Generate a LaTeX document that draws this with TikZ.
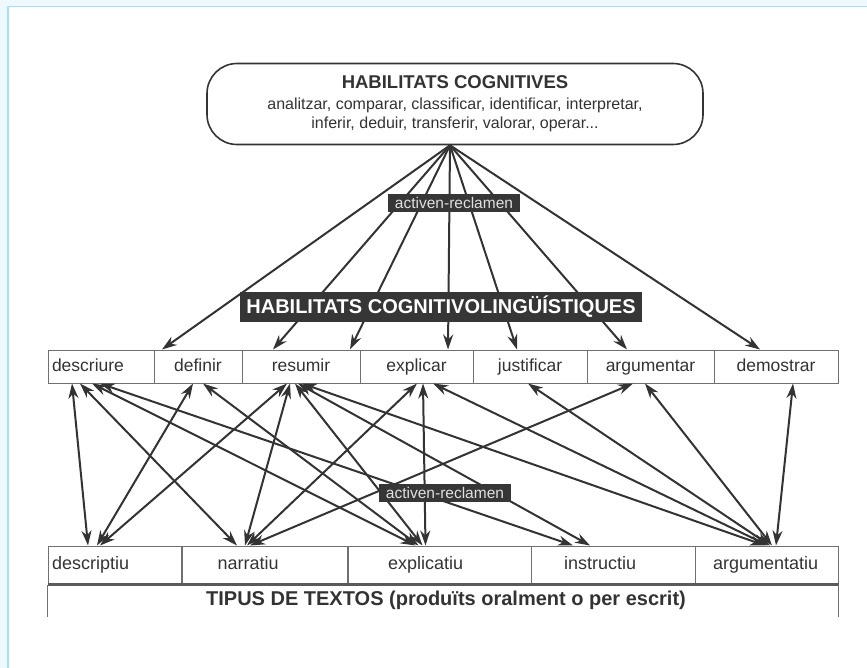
\documentclass[tikz,border=0pt]{standalone}
\usepackage{fontspec}
\setmainfont{Liberation Sans}
\usetikzlibrary{arrows.meta, positioning}
\definecolor{ink}{HTML}{333333}
\definecolor{boxgray}{HTML}{707070}
\definecolor{tagfill}{HTML}{363636}
\definecolor{bandblue}{HTML}{EEF8FF}
\definecolor{edgeblue}{HTML}{A9DDFF}

\begin{document}
\begin{tikzpicture}[x=1pt, y=-1pt,
    skill/.style={draw=boxgray, line width=1pt, minimum height=33pt, inner sep=0pt,
      text height=13pt, text depth=4pt, text=ink, font=\fontsize{17.5}{20}\selectfont},
    kind/.style={draw=boxgray, line width=1pt, minimum height=38pt, inner sep=0pt,
      text height=13pt, text depth=4pt, align=left, text=ink,
      font=\fontsize{18}{21}\selectfont},
    tag/.style={fill=tagfill, text=white!88!black, inner xsep=7pt, inner ysep=3pt,
      font=\fontsize{15.5}{17}\selectfont},
    fan/.style={ink, line width=2pt, -{Stealth[length=15pt, width=10pt]}},
    link/.style={ink, line width=2pt,
      {Stealth[length=15pt, width=10pt]}-{Stealth[length=15pt, width=10pt]}}]
  \useasboundingbox (0,0) rectangle (867,668);
  % frame
  \fill[bandblue] (0,0) rectangle (867,6);
  \fill[bandblue] (0,0) rectangle (8,668);
  \draw[edgeblue, line width=1.5pt] (8,668) -- (8,6.5) -- (867,6.5);

  % habilitats cognitives
  \node[draw=ink, line width=1.6pt, rounded corners=30pt, minimum width=496pt,
    minimum height=81pt, align=center, text=ink, font=\fontsize{16}{19}\selectfont]
    (cog) at (455,104)
    {{\bfseries\fontsize{18.5}{22}\selectfont HABILITATS COGNITIVES}\\[2pt]
     analitzar, comparar, classificar, identificar, interpretar,\\
     inferir, deduir, transferir, valorar, operar...};
  \coordinate (apex) at ([xshift=-5pt]cog.south);

  % habilitats cognitivolinguistiques
  \node[skill, minimum width=106pt, text width=98pt, inner xsep=4pt, align=left]
    (descriure) at (101,366.5) {descriure};
  \node[skill, minimum width=88pt] (definir) at (198,366.5) {definir};
  \node[skill, minimum width=118pt] (resumir) at (301,366.5) {resumir};
  \node[skill, minimum width=113pt] (explicar) at (416.5,366.5) {explicar};
  \node[skill, minimum width=114pt] (justificar) at (530,366.5) {justificar};
  \node[skill, minimum width=127pt] (argumentar) at (650.5,366.5) {argumentar};
  \node[skill, minimum width=124pt] (demostrar) at (776,366.5) {demostrar};

  % tipus de textos
  \node[kind, text width=126pt, inner xsep=4pt] (descriptiu) at (115,565) {descriptiu};
  \node[kind, text width=94pt, inner xsep=36pt] (narratiu) at (264.5,565) {narratiu};
  \node[kind, text width=103pt, inner xsep=40pt] (explicatiu) at (439.5,565) {explicatiu};
  \node[kind, text width=98pt, inner xsep=33pt] (instructiu) at (613,565) {instructiu};
  \node[kind, text width=107pt, inner xsep=18pt] (argumentatiu) at (766.5,565) {argumentatiu};
  \draw[boxgray!80!black, line width=2.6pt] (descriptiu.south west) -- (argumentatiu.south east);
  \node[text=ink, font=\bfseries\fontsize{20}{23}\selectfont, minimum height=33pt, inner sep=0pt]
    (tipus) at (446,600.5) {TIPUS DE TEXTOS (produïts oralment o per escrit)};
  \draw[boxgray, line width=1pt] (descriptiu.south west) -- (descriptiu.south west |- tipus.south);
  \draw[boxgray, line width=1pt] (argumentatiu.south east) -- (argumentatiu.south east |- tipus.south);

  % activen-reclamen (amunt)
  \draw[fan] (apex) -- ([xshift=-36pt]definir.north);
  \draw[fan] (apex) -- ([xshift=-28pt]resumir.north);
  \draw[fan] (apex) -- ([xshift=49pt]resumir.north);
  \draw[fan] (apex) -- ([xshift=31.5pt]explicar.north);
  \draw[fan] (apex) -- ([xshift=-13pt]justificar.north);
  \draw[fan] (apex) -- ([xshift=-23.5pt]argumentar.north);
  \draw[fan] (apex) -- ([xshift=-16pt]demostrar.north);

  % activen-reclamen (avall)
  \draw[link] ([xshift=-29pt]descriure.south) -- ([xshift=-27pt]descriptiu.north);
  \draw[link] ([xshift=-21pt]descriure.south) -- ([xshift=-27.5pt]narratiu.north);
  \draw[link] ([xshift=-9pt]descriure.south) -- ([xshift=-24pt]explicatiu.north);
  \draw[link] ([xshift=-1pt]descriure.south) -- ([xshift=-40pt]instructiu.north);
  \draw[link] ([xshift=-5pt]definir.south) -- ([xshift=-18pt]descriptiu.north);
  \draw[link] ([xshift=5pt]definir.south) -- ([xshift=-21pt]explicatiu.north);
  \draw[link] ([xshift=-14pt]resumir.south) -- ([xshift=-15pt]descriptiu.north);
  \draw[link] ([xshift=-11pt]resumir.south) -- ([xshift=-19.5pt]narratiu.north);
  \draw[link] ([xshift=-6pt]resumir.south) -- ([xshift=-17pt]explicatiu.north);
  \draw[link] ([xshift=-3pt]resumir.south) -- ([xshift=-23pt]instructiu.north);
  \draw[link] ([xshift=1pt]resumir.south) -- ([xshift=-1.5pt]argumentatiu.north);
  \draw[link] ([xshift=0.5pt]explicar.south) -- ([xshift=-17.5pt]narratiu.north);
  \draw[link] ([xshift=6.5pt]explicar.south) -- ([xshift=-14pt]explicatiu.north);
  \draw[link] ([xshift=16.5pt]explicar.south) -- ([xshift=1.5pt]argumentatiu.north);
  \draw[link] ([xshift=-2pt]justificar.south) -- ([xshift=3.5pt]argumentatiu.north);
  \draw[link] ([xshift=-17.5pt]argumentar.south) -- ([xshift=-14.5pt]narratiu.north);
  \draw[link] ([xshift=-5.5pt]argumentar.south) -- ([xshift=5.5pt]argumentatiu.north);
  \draw[link] ([xshift=17pt]demostrar.south) -- ([xshift=9.5pt]argumentatiu.north);

  % etiquetes
  \node[tag] (actupper) at (454,203) {activen-reclamen};
  \node[tag] (actlower) at (445,493) {activen-reclamen};
  \node[fill=tagfill, text=white, font=\bfseries\fontsize{20}{22}\selectfont,
    minimum height=30pt, inner xsep=6pt, inner ysep=0pt]
    (cogling) at (441,307) {HABILITATS COGNITIVOLINGÜÍSTIQUES};
\end{tikzpicture}
\end{document}
